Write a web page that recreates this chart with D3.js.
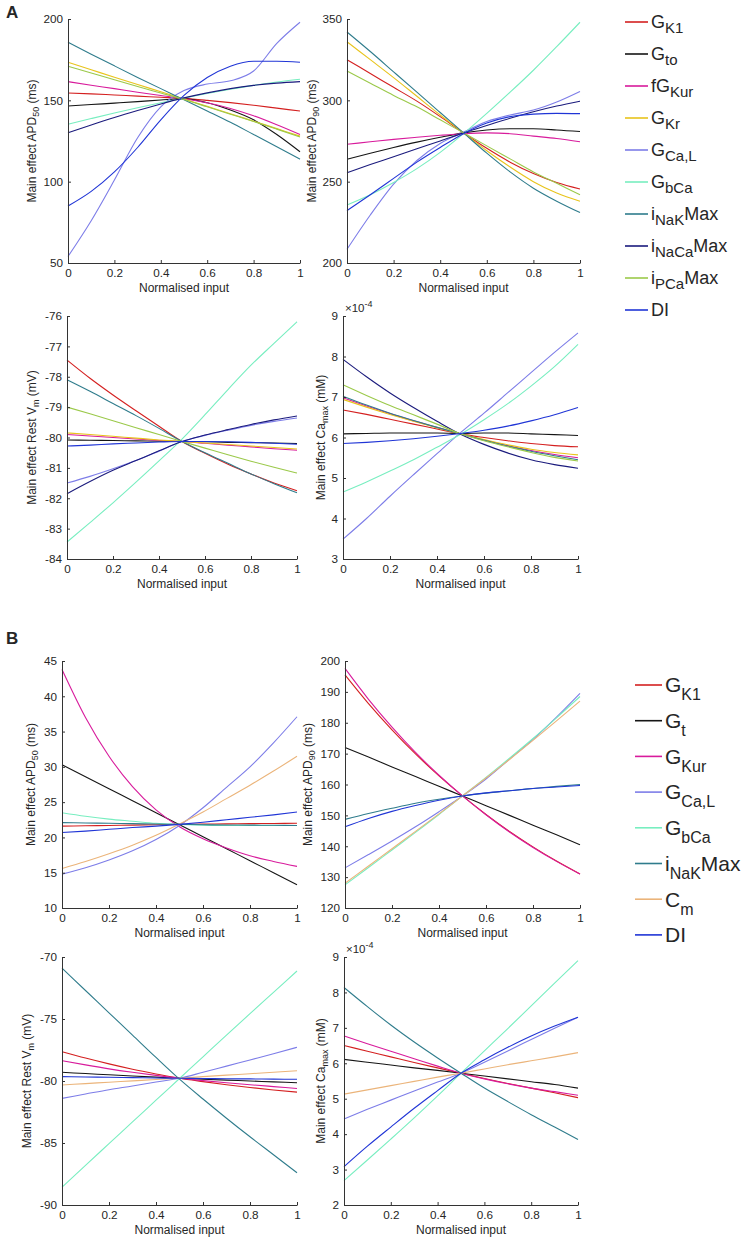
<!DOCTYPE html>
<html><head><meta charset="utf-8">
<script src="https://cdn.jsdelivr.net/npm/d3@7"></script>
<style>body{margin:0;background:#fff} text{font-family:"Liberation Sans",Arial,Helvetica,sans-serif;fill:#262626}</style>
</head><body><svg id="c" width="746" height="1241"></svg>
<script>
// ---------- data ----------
const xInput = [0,0.1,0.2,0.3,0.4,0.5,0.6,0.7,0.8,0.9,1];
const xTicks = [0,0.2,0.4,0.6,0.8,1];
const seriesA = ["GK1","Gto","fGKur","GKr","GCaL","GbCa","iNaK","iNaCa","iPCa","DI"];
const seriesB = ["GK1","Gt","GKur","GCaL","GbCa","iNaK","Cm","DI"];

const aApd50 = {
  GK1:  [154.5,154,153.3,152.6,151.9,151.2,150,148.6,147,145.2,143.4],
  Gto:  [146.5,147.4,148.3,149.2,150.2,151,148.5,144,138,129,118.4],
  fGKur:[161.5,159.3,157.2,155,153,151,148.5,145,140.5,135,129],
  GKr:  [173.4,168.8,164.2,159.7,155.3,150.8,146.3,141.8,137.2,132.6,128],
  GCaL: [54,76,101,127,146,156,160,162,168,185,198],
  GbCa: [135.3,138.8,142.2,145.4,148.5,151.4,154.2,156.8,159.2,161.3,163],
  iNaK: [185.7,178.4,171.2,164.1,157.2,150.4,143.5,136.5,129,121.5,113.8],
  iNaCa:[130,134.8,139.4,143.7,147.8,151.5,154.6,157.2,159.2,160.6,161.5],
  iPCa: [171,166.8,162.6,158.5,154.5,150.5,146,141.5,137,132.3,127.5],
  DI:   [85,94,106,121,138,153,164,171,174,174,173.4]
};
const aApd90 = {
  GK1:  [325,316.5,308,299.5,290,280,270.5,262,255,249.5,245.5],
  Gto:  [263.8,267.5,271,274.3,277.3,280,281.8,282.5,282.5,281.8,280.8],
  fGKur:[273,274.5,276,277.3,278.5,279.5,280,279.5,278,276.5,274.5],
  GKr:  [336,325,314,302.5,291,280,269,259,250,243,238],
  GCaL: [208.4,229.5,248.5,263,273.5,280.5,287,291,294,299,305.5],
  GbCa: [235.7,242,249.5,258,268,279.5,292,305,318.5,333,348],
  iNaK: [342,330,317.5,305,292.5,280,267.5,256,246,238,231],
  iNaCa:[255.5,260.5,265.3,270.2,275,280,284.5,289,293,296.5,299.5],
  iPCa: [318,310.5,303,296,288,280,272,264,256,249,242],
  DI:   [232.2,242,252,262,271,279.5,286,290,291.5,292,291.8]
};
const aVm = {
  GK1:  [-77.45,-78.05,-78.6,-79.12,-79.63,-80.13,-80.52,-80.88,-81.2,-81.5,-81.75],
  Gto:  [-80.08,-80.09,-80.1,-80.11,-80.12,-80.13,-80.14,-80.16,-80.17,-80.18,-80.2],
  fGKur:[-79.9,-79.95,-80,-80.05,-80.1,-80.13,-80.19,-80.25,-80.31,-80.37,-80.42],
  GKr:  [-79.85,-79.9,-79.96,-80.02,-80.08,-80.13,-80.18,-80.23,-80.28,-80.33,-80.38],
  GCaL: [-81.5,-81.28,-81.03,-80.76,-80.45,-80.13,-79.93,-79.76,-79.6,-79.47,-79.36],
  GbCa: [-83.44,-82.8,-82.15,-81.47,-80.77,-80.05,-79.25,-78.42,-77.62,-76.9,-76.19],
  iNaK: [-78.1,-78.48,-78.88,-79.28,-79.7,-80.13,-80.5,-80.85,-81.2,-81.52,-81.82],
  iNaCa:[-81.85,-81.45,-81.08,-80.76,-80.44,-80.13,-79.92,-79.74,-79.57,-79.42,-79.29],
  iPCa: [-79,-79.22,-79.45,-79.68,-79.9,-80.13,-80.35,-80.57,-80.78,-80.98,-81.17],
  DI:   [-80.28,-80.25,-80.21,-80.18,-80.15,-80.13,-80.13,-80.14,-80.16,-80.19,-80.22]
};
const aCa = {
  GK1:  [6.68,6.57,6.45,6.33,6.21,6.09,6.0,5.92,5.85,5.8,5.77],
  Gto:  [6.09,6.1,6.11,6.11,6.11,6.1,6.11,6.11,6.09,6.07,6.05],
  fGKur:[6.98,6.78,6.59,6.41,6.25,6.09,5.94,5.8,5.68,5.58,5.5],
  GKr:  [6.94,6.75,6.57,6.4,6.24,6.09,5.95,5.82,5.71,5.63,5.57],
  GCaL: [3.49,4.0,4.55,5.08,5.6,6.12,6.6,7.1,7.6,8.1,8.58],
  GbCa: [4.65,4.9,5.17,5.45,5.76,6.08,6.44,6.83,7.27,7.75,8.3],
  iNaK: [7.02,6.8,6.6,6.42,6.25,6.09,5.93,5.79,5.66,5.55,5.45],
  iNaCa:[7.93,7.5,7.1,6.74,6.4,6.08,5.83,5.62,5.45,5.33,5.24],
  iPCa: [7.3,7.04,6.79,6.56,6.33,6.09,5.92,5.77,5.63,5.51,5.42],
  DI:   [5.85,5.88,5.92,5.97,6.03,6.1,6.18,6.28,6.41,6.56,6.74]
};
const bApd50 = {
  GK1:  [21.6,21.65,21.7,21.75,21.8,21.85,21.88,21.92,21.95,21.98,22.0],
  Gt:   [30.3,28.6,26.9,25.2,23.5,21.8,20.1,18.4,16.7,15.0,13.3],
  GKur: [43.8,37,31.5,27.2,23.9,21.5,19.8,18.5,17.4,16.6,15.9],
  GCaL: [14.8,15.7,16.8,18.1,19.7,21.7,24.2,27.1,30.0,33.4,37.1],
  GbCa: [23.5,23.0,22.6,22.3,22.0,21.85,21.75,21.7,21.7,21.7,21.7],
  iNaK: [22.1,22.05,22.0,21.95,21.9,21.85,21.8,21.77,21.75,21.72,21.7],
  Cm:   [15.6,16.6,17.7,18.9,20.3,21.9,23.6,25.5,27.4,29.4,31.5],
  DI:   [20.7,20.9,21.15,21.4,21.6,21.85,22.15,22.5,22.85,23.2,23.6]
};
const bApd90 = {
  GK1:  [195.5,186.2,177.7,169.9,162.8,156.3,150.3,144.8,139.8,135.2,131.0],
  Gt:   [172,168.9,165.7,162.6,159.4,156.3,153.1,150.0,146.8,143.7,140.5],
  GKur: [197.6,187.6,178.6,170.4,163.0,156.3,150.2,144.6,139.6,135.1,131.0],
  GCaL: [133,137.3,141.7,146.3,151.2,156.3,161.8,168.2,174.6,181.8,189.5],
  GbCa: [127.5,133.1,138.8,144.5,150.3,156.3,162.3,168.5,174.9,181.6,188.5],
  iNaK: [148.7,150.6,152.3,153.9,155.2,156.3,157.2,158.0,158.7,159.4,160.0],
  Cm:   [128,133.6,139.2,144.8,150.5,156.3,162.1,168.1,174.3,180.6,187.0],
  DI:   [146.3,149.0,151.3,153.2,154.9,156.3,157.3,158.0,158.7,159.2,159.7]
};
const bVm = {
  GK1:  [-77.64,-78.15,-78.62,-79.05,-79.43,-79.78,-80.05,-80.3,-80.52,-80.72,-80.9],
  Gt:   [-79.3,-79.4,-79.5,-79.6,-79.69,-79.78,-79.86,-79.93,-80.0,-80.07,-80.14],
  GKur: [-78.36,-78.7,-79.02,-79.3,-79.55,-79.78,-79.97,-80.14,-80.3,-80.45,-80.6],
  GCaL: [-81.4,-81.05,-80.7,-80.4,-80.08,-79.78,-79.3,-78.8,-78.3,-77.8,-77.28],
  GbCa: [-88.57,-86.8,-85.05,-83.3,-81.55,-79.8,-78.05,-76.3,-74.57,-72.85,-71.13],
  iNaK: [-70.9,-72.7,-74.5,-76.3,-78.1,-79.85,-81.45,-83.0,-84.5,-85.95,-87.4],
  Cm:   [-80.32,-80.21,-80.1,-79.99,-79.88,-79.78,-79.65,-79.53,-79.41,-79.29,-79.17],
  DI:   [-79.65,-79.68,-79.7,-79.73,-79.76,-79.78,-79.8,-79.82,-79.83,-79.85,-79.86]
};
const bCa = {
  GK1:  [6.5,6.34,6.18,6.02,5.87,5.72,5.57,5.43,5.3,5.17,5.03],
  Gt:   [6.11,6.03,5.95,5.87,5.8,5.72,5.64,5.56,5.48,5.4,5.3],
  GKur: [6.77,6.55,6.34,6.13,5.92,5.72,5.56,5.42,5.3,5.2,5.1],
  GCaL: [4.43,4.7,4.96,5.22,5.47,5.72,6.03,6.35,6.67,6.99,7.3],
  GbCa: [2.69,3.27,3.86,4.46,5.08,5.72,6.35,6.98,7.62,8.26,8.9],
  iNaK: [8.14,7.6,7.08,6.6,6.15,5.72,5.3,4.92,4.55,4.2,3.85],
  Cm:   [5.13,5.25,5.37,5.49,5.61,5.72,5.84,5.96,6.07,6.18,6.3],
  DI:   [3.08,3.66,4.2,4.73,5.23,5.72,6.1,6.45,6.77,7.05,7.3]
};

const yTicksA50 = [50,100,150,200];
const yTicksA90 = [200,250,300,350];
const yTicksAVm = [-84,-83,-82,-81,-80,-79,-78,-77,-76];
const yTicksACa = [3,4,5,6,7,8,9];
const yTicksB50 = [10,15,20,25,30,35,40,45];
const yTicksB90 = [120,130,140,150,160,170,180,190,200];
const yTicksBVm = [-90,-85,-80,-75,-70];
const yTicksBCa = [2,3,4,5,6,7,8,9];

const legendParts = {
  GK1:[["G",0],["K1",1]], Gto:[["G",0],["to",1]], fGKur:[["fG",0],["Kur",1]],
  GKr:[["G",0],["Kr",1]], GCaL:[["G",0],["Ca,L",1]], GbCa:[["G",0],["bCa",1]],
  iNaK:[["i",0],["NaK",1],["Max",0]], iNaCa:[["i",0],["NaCa",1],["Max",0]],
  iPCa:[["i",0],["PCa",1],["Max",0]], DI:[["DI",0]], Gt:[["G",0],["t",1]],
  GKur:[["G",0],["Kur",1]], Cm:[["C",0],["m",1]]
};

// ---------- styles ----------
const colors = {
  GK1:"#d42020", Gto:"#151515", Gt:"#151515", fGKur:"#d81b9c", GKur:"#d81b9c",
  GKr:"#e8c41c", GCaL:"#7d7de8", GbCa:"#78eec0", iNaK:"#2f7c8c", iNaCa:"#1b1b7d",
  iPCa:"#9bc94a", DI:"#2035d6", Cm:"#ebb47a"
};

const svg = d3.select("#c");

function drawPanel(p) {
  const x = d3.scaleLinear().domain([0,1]).range([p.x0,p.x1]);
  const y = d3.scaleLinear().domain([p.ticks[0], p.ticks[p.ticks.length-1]]).range([p.yb,p.yt]);
  const g = svg.append("g");
  const line = d3.line().x((d,i)=>x(xInput[i])).y(d=>y(d)).curve(d3.curveMonotoneX);
  p.series.forEach(k=>{
    g.append("path").attr("d", line(p.data[k])).attr("fill","none")
      .attr("stroke", colors[k]).attr("stroke-width", 1.1);
  });
  const ax = g.append("g").attr("transform",`translate(0,${p.yb})`)
    .call(d3.axisBottom(x).tickValues(xTicks).tickFormat(d=>String(d)).tickSizeInner(-3).tickSizeOuter(0).tickPadding(6));
  const ay = g.append("g").attr("transform",`translate(${p.x0},0)`)
    .call(d3.axisLeft(y).tickValues(p.ticks).tickFormat(d=>String(d)).tickSizeInner(-3).tickSizeOuter(0).tickPadding(5));
  [ax,ay].forEach(a=>{
    a.selectAll("path,line").attr("stroke","#333").attr("stroke-width",1);
    a.selectAll("text").attr("font-size",11.7).attr("fill","#262626")
      .style("font-family",'"Liberation Sans",Arial,sans-serif');
  });
  g.append("text").attr("x",(p.x0+p.x1)/2).attr("y",p.yb+29).attr("text-anchor","middle")
    .attr("font-size",12).text("Normalised input");
  const lt = g.append("text").attr("transform",`translate(${p.x0-p.lab},${(p.yt+p.yb)/2}) rotate(-90)`)
    .attr("text-anchor","middle").attr("font-size",12);
  lt.append("tspan").text(p.yl[0]);
  lt.append("tspan").attr("font-size",9).attr("dy",3).text(p.yl[1]);
  lt.append("tspan").attr("dy",-3).text(" "+p.yl[2]);
  if (p.exp) {
    const e = g.append("text").attr("x",p.x0+2).attr("y",p.yt-4).attr("font-size",11.5);
    e.append("tspan").text("\u00d710");
    e.append("tspan").attr("font-size",9).attr("dy",-5).text("-4");
  }
}

const panels = [
  {x0:68,x1:300,yt:19,yb:263,ticks:yTicksA50,data:aApd50,series:seriesA,lab:32,yl:["Main effect APD","50","(ms)"]},
  {x0:347,x1:580,yt:19,yb:263,ticks:yTicksA90,data:aApd90,series:seriesA,lab:31,yl:["Main effect APD","90","(ms)"]},
  {x0:67,x1:297,yt:316,yb:559,ticks:yTicksAVm,data:aVm,series:seriesA,lab:31,yl:["Main effect Rest V","m","(mV)"]},
  {x0:343,x1:578,yt:316,yb:559,ticks:yTicksACa,data:aCa,series:seriesA,lab:18,yl:["Main effect Ca","max","(mM)"],exp:true},
  {x0:62,x1:297,yt:661,yb:908,ticks:yTicksB50,data:bApd50,series:seriesB,lab:27,yl:["Main effect APD","50","(ms)"]},
  {x0:345,x1:580,yt:661,yb:908,ticks:yTicksB90,data:bApd90,series:seriesB,lab:33,yl:["Main effect APD","90","(ms)"]},
  {x0:62,x1:297,yt:957,yb:1205,ticks:yTicksBVm,data:bVm,series:seriesB,lab:31,yl:["Main effect Rest V","m","(mV)"]},
  {x0:344,x1:578,yt:957,yb:1205,ticks:yTicksBCa,data:bCa,series:seriesB,lab:19,yl:["Main effect Ca","max","(mM)"],exp:true}
];
panels.forEach(drawPanel);

function drawLegend(series, lx0, lx1, tx, y0, dy, fMain, fSub, sdy) {
  series.forEach((k,i)=>{
    const yy = y0 + i*dy;
    svg.append("line").attr("x1",lx0).attr("x2",lx1).attr("y1",yy).attr("y2",yy)
      .attr("stroke",colors[k]).attr("stroke-width",1.6);
    const t = svg.append("text").attr("x",tx).attr("y",yy+fMain*0.35).attr("font-size",fMain).attr("fill","#000");
    let cur = 0;
    legendParts[k].forEach(([s,sub])=>{
      const ts = t.append("tspan").text(s);
      if (sub && !cur) { ts.attr("font-size",fSub).attr("dy",sdy); cur=1; }
      else if (!sub && cur) { ts.attr("dy",-sdy); cur=0; }
    });
  });
}
drawLegend(seriesA, 625, 648, 651, 22, 32, 18, 15, 5);
drawLegend(seriesB, 635, 662, 665, 685, 35.7, 21, 16, 8);

svg.append("text").attr("x",6).attr("y",18).attr("font-size",17).attr("font-weight","bold").attr("fill","#000").text("A");
svg.append("text").attr("x",6).attr("y",644).attr("font-size",17).attr("font-weight","bold").attr("fill","#000").text("B");
</script></body></html>
